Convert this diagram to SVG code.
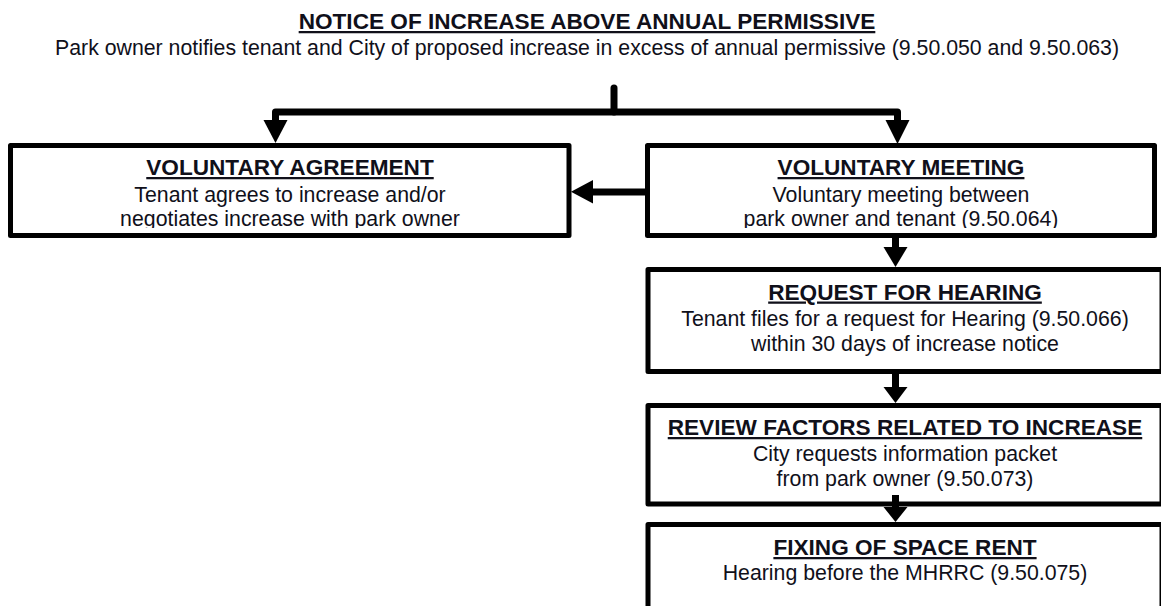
<svg xmlns="http://www.w3.org/2000/svg" width="1161" height="606" viewBox="0 0 1161 606">
  <style>
    .box { fill: #ffffff; stroke: #000000; stroke-width: 5; stroke-linejoin: round; }
    .head { font-family: "Liberation Sans", Arial, sans-serif; font-weight: bold; font-size: 22.6px; fill: #10101a; text-anchor: middle; text-decoration: underline; }
    .body { font-family: "Liberation Sans", Arial, sans-serif; font-size: 21.3px; fill: #10101a; text-anchor: middle; }
    .wire { fill: none; stroke: #000000; stroke-width: 7; stroke-linejoin: round; }
    .tip { fill: #000000; }
  </style>
  <defs>
    <clipPath id="clipAgreement"><rect x="13" y="148" width="553" height="80"/></clipPath>
    <clipPath id="clipMeeting"><rect x="650" y="148" width="502" height="80"/></clipPath>
  </defs>

  <rect width="1161" height="606" fill="#ffffff"/>

  <!-- heading: the notice that starts the process -->
  <g id="notice">
    <text class="head" x="587" y="29">NOTICE OF INCREASE ABOVE ANNUAL PERMISSIVE</text>
    <text class="body" x="587" y="55" textLength="1064" lengthAdjust="spacingAndGlyphs">Park owner notifies tenant and City of proposed increase in excess of annual permissive (9.50.050 and 9.50.063)</text>
  </g>

  <!-- process steps -->
  <g id="voluntary-agreement">
    <rect class="box" x="10.5" y="145.5" width="558.5" height="90"/>
    <text class="head" x="290" y="175">VOLUNTARY AGREEMENT</text>
    <g clip-path="url(#clipAgreement)">
      <text class="body" x="290" y="201.5">Tenant agrees to increase and/or</text>
      <text class="body" x="290" y="225.5">negotiates increase with park owner</text>
    </g>
  </g>

  <g id="voluntary-meeting">
    <rect class="box" x="647.5" y="145.5" width="507" height="90"/>
    <text class="head" x="901" y="175">VOLUNTARY MEETING</text>
    <g clip-path="url(#clipMeeting)">
      <text class="body" x="901" y="201.5">Voluntary meeting between</text>
      <text class="body" x="901" y="226">park owner and tenant (9.50.064)</text>
    </g>
  </g>

  <g id="request-for-hearing">
    <rect class="box" x="648" y="269.5" width="514" height="102"/>
    <text class="head" x="905" y="299.5">REQUEST FOR HEARING</text>
    <text class="body" x="905" y="325.5">Tenant files for a request for Hearing (9.50.066)</text>
    <text class="body" x="905" y="351">within 30 days of increase notice</text>
  </g>

  <g id="review-factors">
    <rect class="box" x="648" y="405.5" width="514" height="98.5"/>
    <text class="head" x="905" y="435">REVIEW FACTORS RELATED TO INCREASE</text>
    <text class="body" x="905" y="461">City requests information packet</text>
    <text class="body" x="905" y="486">from park owner (9.50.073)</text>
  </g>

  <g id="fixing-space-rent">
    <rect class="box" x="648" y="524.5" width="514" height="100"/>
    <text class="head" x="905" y="555">FIXING OF SPACE RENT</text>
    <text class="body" x="905" y="580">Hearing before the MHRRC (9.50.075)</text>
  </g>

  <!-- connectors -->
  <g id="connectors">
    <!-- split from the notice to both voluntary paths -->
    <path class="wire" d="M614 88 V112" stroke-linecap="round"/>
    <path class="wire" d="M275.5 122 V112 H897.5 V122"/>
    <polygon class="tip" points="263.5,120 287.5,120 275.5,143"/>
    <polygon class="tip" points="885.5,120 909.5,120 897.5,144"/>

    <!-- meeting leads back to agreement -->
    <path class="wire" d="M645 192 H590"/>
    <polygon class="tip" points="593,180 593,203.5 571,191.7"/>

    <!-- meeting to request -->
    <path class="wire" d="M895.5 238 V249"/>
    <polygon class="tip" points="883.5,247 907.5,247 895.5,267"/>

    <!-- request to review -->
    <path class="wire" d="M895.5 374 V389"/>
    <polygon class="tip" points="883.5,387 907.5,387 895.5,403"/>

    <!-- review to fixing -->
    <path class="wire" d="M895.5 495 V509"/>
    <polygon class="tip" points="883.5,507 907.5,507 895.5,522"/>
  </g>
</svg>
